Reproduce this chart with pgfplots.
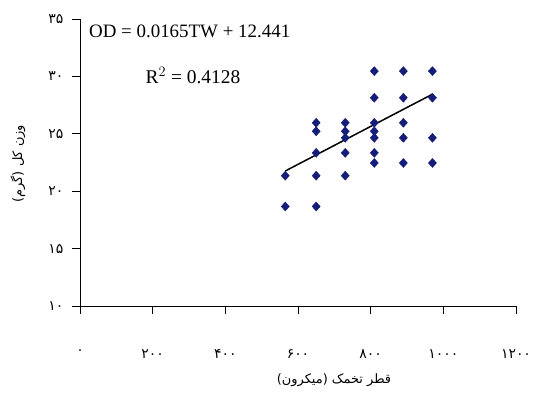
\documentclass[border=0pt]{standalone}
\usepackage{fontspec}
\setmainfont{Liberation Serif}
\newfontfamily\arabicfont[Script=Arabic]{DejaVu Sans}
\newfontfamily\digitfont{DejaVu Sans}
\TeXXeTstate=1
\usepackage{pgfplots}
\pgfplotsset{compat=1.18}
\definecolor{navy}{RGB}{20,30,120}
\begin{document}
\begin{tikzpicture}
\path[use as bounding box] (-80bp,-106bp) rectangle (457bp,306bp);
\begin{axis}[
  scale only axis, width=436bp, height=287bp,
  at={(0,0)}, anchor=south west,
  xmin=0, xmax=1200, ymin=10, ymax=35,
  axis lines=left, axis line style={-, line width=0.8bp, black},
  tick align=outside, major tick length=8bp,
  tick style={line width=0.8bp, black},
  xtick={0,200,400,600,800,1000,1200},
  xticklabels={۰,۲۰۰,۴۰۰,۶۰۰,۸۰۰,۱۰۰۰,۱۲۰۰},
  ytick={10,15,20,25,30,35},
  yticklabels={۱۰,۱۵,۲۰,۲۵,۳۰,۳۵},
  tick label style={font=\digitfont\fontsize{14}{16}\selectfont},
  xticklabel style={yshift=-32bp},
  yticklabel style={xshift=-5bp},
  clip=false,
]
\addplot[only marks, mark=diamond*, mark size=4.5bp, color=navy, mark options={xscale=1.2}] coordinates {
(565,21.35) (565,18.67)
(650,25.96) (650,25.22) (650,23.34) (650,21.35) (650,18.67)
(730,25.96) (730,25.22) (730,24.65) (730,23.34) (730,21.35)
(810,30.46) (810,28.14) (810,25.96) (810,25.22) (810,24.65) (810,23.34) (810,22.46)
(890,30.46) (890,28.14) (890,25.96) (890,24.65) (890,22.46)
(970,30.46) (970,28.14) (970,24.65) (970,22.46)
};
\addplot[black, line width=1.5bp] coordinates {(565,21.76) (970,28.45)};
\node[font=\fontsize{19}{22}\selectfont] at (axis cs:302,33.93) {OD = 0.0165TW + 12.441};
\node[font=\fontsize{19.5}{22}\selectfont] at (axis cs:311,30.09) {R$^{2}$ = 0.4128};
\node[font=\arabicfont\fontsize{13}{15}\selectfont] at ([yshift=-74bp]axis cs:699,10) {\beginR قطر تخمک (میکرون)\endR};
\node[font=\arabicfont\fontsize{13}{15}\selectfont, rotate=90] at ([xshift=-62bp]axis cs:0,22.4) {\beginR وزن کل (گرم)\endR};
\end{axis}
\end{tikzpicture}
\end{document}
